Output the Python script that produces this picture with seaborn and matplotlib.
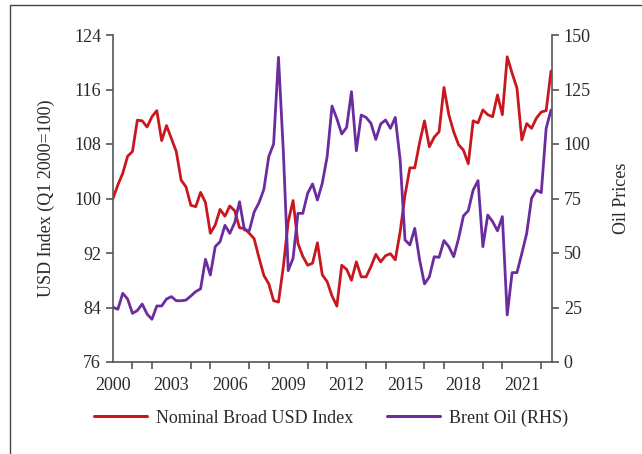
import numpy as np
import pandas as pd
import matplotlib
matplotlib.use("Agg")
import matplotlib.pyplot as plt
from matplotlib.ticker import MultipleLocator
from matplotlib.lines import Line2D
from matplotlib.patches import Rectangle
import seaborn as sns

# Quarterly data, 2000Q1 .. 2022Q3
usd_index = [100.0, 102.0, 103.7, 106.2, 106.9, 111.5, 111.4, 110.5, 112.0, 112.9,
             108.5, 110.7, 108.8, 106.9, 102.7, 101.7, 99.0, 98.8, 100.9, 99.4,
             94.9, 96.1, 98.4, 97.4, 98.9, 98.2, 95.7, 95.6, 94.9, 94.1,
             91.3, 88.7, 87.5, 85.0, 84.8, 90.0, 96.6, 99.7, 93.4, 91.5,
             90.2, 90.5, 93.5, 88.8, 87.8, 85.7, 84.2, 90.2, 89.6, 88.0,
             90.7, 88.5, 88.5, 90.0, 91.8, 90.7, 91.6, 91.9, 91.0, 95.1,
             100.5, 104.5, 104.5, 108.2, 111.4, 107.6, 109.0, 109.8, 116.3, 112.3,
             109.8, 107.9, 107.1, 105.1, 111.4, 111.1, 113.0, 112.3, 112.0, 115.2,
             112.3, 120.8, 118.4, 116.2, 108.6, 111.0, 110.3, 111.8, 112.7, 112.9,
             118.7]

brent_oil = [25.1, 24.2, 31.5, 28.9, 22.3, 23.6, 26.6, 22.0, 19.6, 25.7,
             25.7, 28.9, 30.0, 28.1, 28.1, 28.4, 30.3, 32.3, 33.6, 47.1,
             39.9, 52.9, 55.2, 62.7, 59.0, 63.9, 73.5, 60.6, 60.2, 68.8,
             73.1, 79.2, 94.2, 100.0, 139.8, 96.5, 41.9, 47.6, 68.2, 68.2,
             77.4, 81.7, 74.3, 82.0, 94.2, 117.4, 111.6, 104.6, 107.6, 124.0,
             96.9, 113.3, 112.2, 109.5, 102.1, 109.2, 111.0, 107.2, 112.2, 92.7,
             56.0, 53.7, 61.3, 46.8, 35.8, 39.1, 48.3, 48.0, 55.7, 52.9,
             48.3, 56.6, 67.0, 69.4, 78.9, 83.2, 52.9, 67.4, 64.4, 60.2,
             66.7, 21.6, 41.0, 41.0, 49.8, 59.0, 75.1, 78.9, 77.7, 107.2,
             115.6]

quarters = 2000 + np.arange(len(usd_index)) / 4.0
year_ticks = [2000, 2003, 2006, 2009, 2012, 2015, 2018, 2021]
left_ticks = [76, 84, 92, 100, 108, 116, 124]
right_ticks = [0, 25, 50, 75, 100, 125, 150]

red = "#c8171e"
purple = "#6a2c9e"

df = pd.DataFrame({"quarter": quarters, "usd": usd_index, "oil": brent_oil})

sns.set_theme(style="white")
plt.rcParams["font.family"] = ["Liberation Serif", "DejaVu Serif"]
plt.rcParams["font.size"] = 12

fig = plt.figure(figsize=(6.42, 4.54), dpi=100)
ax = fig.add_axes([113 / 642, 1 - 362 / 454, (552 - 113) / 642, (362 - 35) / 454])
ax2 = ax.twinx()

sns.lineplot(data=df, x="quarter", y="usd", ax=ax, color=red, linewidth=2.0)
sns.lineplot(data=df, x="quarter", y="oil", ax=ax2, color=purple, linewidth=2.0)

ax.set_xlim(2000, 2022.55)
ax.set_ylim(76, 124)
ax2.set_ylim(0, 150)
ax.set_xticks(year_ticks)
ax.xaxis.set_minor_locator(MultipleLocator(1))
ax.set_yticks(left_ticks)
ax2.set_yticks(right_ticks)

spine_col = "#555555"
txt_col = "#2a2a2a"
for a in (ax, ax2):
    for s in a.spines.values():
        s.set_color(spine_col)
        s.set_linewidth(1.2)
    a.spines["top"].set_visible(False)
ax.spines["right"].set_visible(False)
ax2.spines["left"].set_visible(False)
ax2.spines["bottom"].set_visible(False)

ax.tick_params(axis="both", which="both", direction="out", length=5, width=1.2,
               color=spine_col, labelsize=13, labelcolor=txt_col)
ax.tick_params(axis="x", which="major", pad=6)
ax.tick_params(axis="x", which="minor", length=5, bottom=True)
ax2.tick_params(axis="y", direction="out", length=5, width=1.2, color=spine_col,
                labelsize=13, labelcolor=txt_col, right=True)

ax.set_xlabel("")
ax.set_ylabel("USD Index (Q1 2000=100)", fontsize=13, color=txt_col, labelpad=14)
ax2.set_ylabel("Oil Prices", fontsize=13, color=txt_col, labelpad=16)

handles = [Line2D([0], [0], color=red, lw=2.2), Line2D([0], [0], color=purple, lw=2.2)]
fig.legend(handles, ["Nominal Broad USD Index", "Brent Oil (RHS)"],
           loc="center", bbox_to_anchor=(331 / 642, 1 - 418 / 454), ncol=2,
           frameon=False, fontsize=13, handlelength=2.9, columnspacing=1.9,
           handletextpad=0.5, labelcolor=txt_col)

# thin frame around the panel
fig.patches.append(Rectangle((10 / 642, -0.05), 1.2, 1 - 5 / 454 + 0.05,
                             transform=fig.transFigure, fill=False,
                             edgecolor="#444444", linewidth=1.0))

fig.savefig("out.png", dpi=100)
